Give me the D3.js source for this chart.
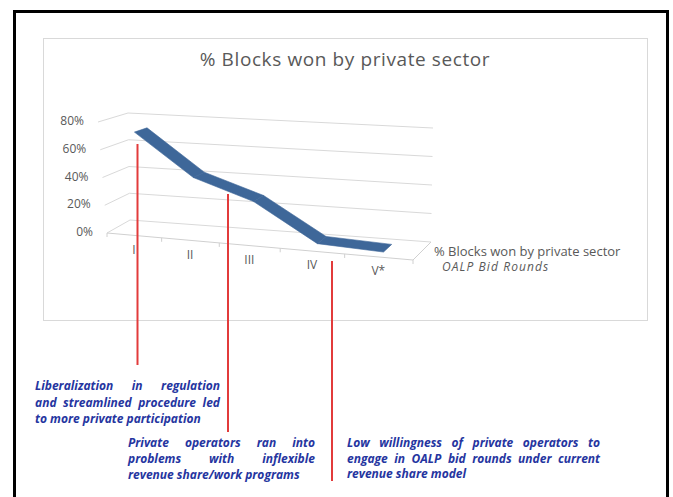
<!DOCTYPE html>
<html><head><meta charset="utf-8">
<script src="https://cdn.jsdelivr.net/npm/d3@7"></script>
<style>body{margin:0;background:#fff}svg{display:block}</style>
</head><body>
<svg id="c" width="673" height="497"></svg>
<script>
// ---- data ----
const categories = ["I", "II", "III", "IV", "V*"];
const values = [0.72, 0.42, 0.28, 0.02, 0.0];
const yTicks = [0, 0.2, 0.4, 0.6, 0.8];
const chartTitle = "% Blocks won by private sector";
const seriesName = "% Blocks won by private sector";
const depthTitle = "OALP Bid Rounds";
const note1 = ["Liberalization in regulation", "and streamlined procedure led", "to more private participation"];
const note2 = ["Private operators ran into", "problems with inflexible", "revenue share/work programs"];
const note3 = ["Low willingness of private operators to", "engage in OALP bid rounds under current", "revenue share model"];

// ---- layout ----
const svg = d3.select("#c");
const FONT = "'Open Sans', 'Liberation Sans', sans-serif";
// projected corners of the 3D box: F/B = front/back, L/R = left/right, 0/1 = bottom/top
const box = {
  F: { L0: [107, 233], L1: [98, 122], R0: [413, 260], R1: [411, 141] },
  B: { L0: [130, 220], L1: [128, 113], R0: [431, 242], R1: [433, 128] }
};
const k = 1.15; // perspective warp along category axis
const warp = u => u / (k + (1 - k) * u);
const lerp = (a, b, t) => [a[0] + (b[0] - a[0]) * t, a[1] + (b[1] - a[1]) * t];
function plane(p, w, t) {
  return lerp(lerp(p.L0, p.R0, w), lerp(p.L1, p.R1, w), t);
}
function P(u, t, z) { // u: 0..1 along categories, t: 0..1 along value, z: 0 front .. 1 back
  const w = warp(u);
  return lerp(plane(box.F, w, t), plane(box.B, w, t), z);
}

const x = d3.scaleBand().domain(categories).range([0, 1]);
const y = d3.scaleLinear().domain([0, 0.8]).range([0, 1]);
const xc = c => x(c) + x.bandwidth() / 2;
const line = d3.line();

// outer frame
svg.append("rect").attr("x", 14.5).attr("y", 11.5).attr("width", 653).attr("height", 520)
  .attr("fill", "none").attr("stroke", "#000").attr("stroke-width", 3);
// chart area box
svg.append("rect").attr("x", 43.5).attr("y", 38.5).attr("width", 604).attr("height", 282)
  .attr("fill", "#fff").attr("stroke", "#D9D9D9").attr("stroke-width", 1);

// title
svg.append("text").attr("x", 345).attr("y", 66).attr("text-anchor", "middle")
  .attr("font-family", FONT).attr("font-size", 19).attr("letter-spacing", 0.6)
  .attr("fill", "#595959").text(chartTitle);

const grid = svg.append("g").attr("fill", "none").attr("stroke", "#D9D9D9").attr("stroke-width", 1);
yTicks.forEach(v => {
  const t = y(v);
  grid.append("path").attr("d", line([P(0, t, 0), P(0, t, 1), P(1, t, 1)]));
});
// floor edges
grid.append("path").attr("d", line([P(0, 0, 0), P(1, 0, 0), P(1, 0, 1)])).attr("stroke", "#D0D0D0");
// ticks on front floor edge
const bounds = categories.map(c => x(c)).concat([1]);
bounds.forEach(u => {
  const p = P(u, 0, 0);
  grid.append("path").attr("d", line([p, [p[0], p[1] + 4]])).attr("stroke", "#D0D0D0");
});

// y labels
yTicks.forEach(v => {
  const p = P(0, y(v), 0);
  svg.append("text").attr("x", p[0] - 14).attr("y", p[1] - 1).attr("dy", "0.35em")
    .attr("text-anchor", "end").attr("font-family", FONT).attr("font-size", 12)
    .attr("fill", "#595959").text(d3.format(".0%")(v));
});
// x labels
categories.forEach(c => {
  const p = P(xc(c), 0, 0);
  svg.append("text").attr("x", p[0]).attr("y", p[1] + 14).attr("dy", "0.35em")
    .attr("text-anchor", "middle").attr("font-family", FONT).attr("font-size", 12)
    .attr("fill", "#595959").text(c);
});

// ribbon
const zf = 0.28, zb = 0.72;
const rib = svg.append("g").attr("fill", "#3E6799").attr("stroke", "#3E6799").attr("stroke-width", 0.6);
for (let i = 0; i < values.length - 1; i++) {
  const u0 = xc(categories[i]), u1 = xc(categories[i + 1]);
  const t0 = y(values[i]), t1 = y(values[i + 1]);
  rib.append("path").attr("d", line([P(u0, t0, zf), P(u1, t1, zf), P(u1, t1, zb), P(u0, t0, zb)]) + "Z");
}

// legend / depth title
const lp = P(1, 0, 0.5);
svg.append("text").attr("x", lp[0] + 12).attr("y", lp[1]).attr("dy", "0.35em")
  .attr("font-family", FONT).attr("font-size", 13).attr("fill", "#595959").text(seriesName);
svg.append("text").attr("x", lp[0] + 20).attr("y", lp[1] + 16).attr("dy", "0.35em")
  .attr("font-family", FONT).attr("font-size", 12).attr("font-style", "italic")
  .attr("letter-spacing", 1.1).attr("fill", "#595959").text(depthTitle);

// annotation leader lines
const leaders = [[137.5, 144, 365], [228, 194, 432], [332, 261, 481]];
leaders.forEach(l => svg.append("line").attr("x1", l[0]).attr("x2", l[0]).attr("y1", l[1]).attr("y2", l[2])
  .attr("stroke", "#E23B3B").attr("stroke-width", 2));

// annotations (justified)
function note(lines, x0, width, y0, lh) {
  const g = svg.append("g").attr("font-family", FONT).attr("font-size", 12).attr("font-weight", "bold")
    .attr("font-style", "italic").attr("fill", "#2535A0");
  lines.forEach((ln, i) => {
    const yy = y0 + i * lh;
    if (i === lines.length - 1) {
      g.append("text").attr("x", x0).attr("y", yy).attr("dy", "0.35em").text(ln);
      return;
    }
    const words = ln.split(" ");
    const nodes = words.map(w => g.append("text").attr("y", yy).attr("dy", "0.35em").text(w));
    const ws = nodes.map(n => n.node().getComputedTextLength());
    const gap = (width - d3.sum(ws)) / (words.length - 1);
    let xx = x0;
    nodes.forEach((n, j) => { n.attr("x", xx); xx += ws[j] + gap; });
  });
}
note(note1, 35, 185, 386, 16.5);
note(note2, 128, 187, 443, 16);
note(note3, 347, 253, 443, 15.5);
</script>
</body></html>
